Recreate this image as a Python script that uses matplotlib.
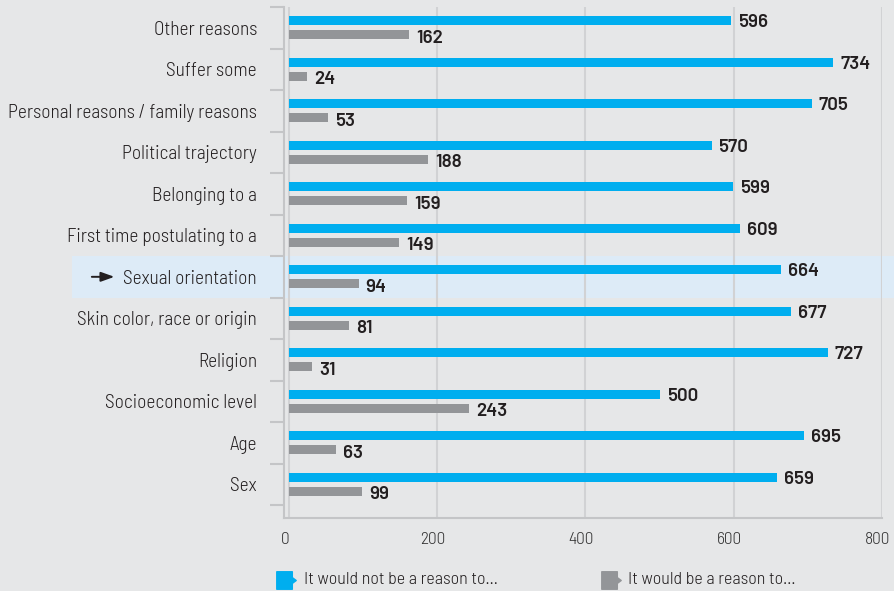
import matplotlib
matplotlib.use('Agg')
from matplotlib import pyplot as plt
from matplotlib.path import Path
from matplotlib.patches import Rectangle
from matplotlib.lines import Line2D
from matplotlib.transforms import blended_transform_factory, ScaledTranslation
import numpy as np

categories = ['Other reasons', 'Suffer some', 'Personal reasons / family reasons',
              'Political trajectory', 'Belonging to a', 'First time postulating to a',
              'Sexual orientation', 'Skin color, race or origin', 'Religion',
              'Socioeconomic level', 'Age', 'Sex']
not_reason = [596, 734, 705, 570, 599, 609, 664, 677, 727, 500, 695, 659]
is_reason = [162, 24, 53, 188, 159, 149, 94, 81, 31, 243, 63, 99]
xticks = [0, 200, 400, 600, 800]
legend_labels = ['It would not be a reason to...', 'It would be a reason to...']
highlight = 'Sexual orientation'

BG = '#e6e7e8'
BLUE = '#00aeef'
GREY = '#939598'
TEXT = '#231f20'
LINE = '#c4c5c7'
FONT = ['Barlow Semi Condensed', 'DejaVu Sans']
NUMFONT = ['Barlow', 'Barlow Semi Condensed', 'DejaVu Sans']

plt.rcParams['font.family'] = FONT

fig = plt.figure(figsize=(8.94, 5.91), dpi=100, facecolor=BG)
ax = fig.add_axes([284 / 894, 1 - 518 / 591, 598 / 894, 511 / 591])
ax.set_facecolor('none')

y = np.arange(len(categories))
ax.barh(y - 0.17, not_reason, height=0.22, color=BLUE, zorder=2)
ax.barh(y + 0.17, is_reason, height=0.22, color=GREY, zorder=2)

for yi, v in zip(y, not_reason):
    ax.annotate(str(v), (v, yi - 0.17), xytext=(5, -1.5), textcoords='offset points',
                va='center', ha='left', fontsize=13.5, fontweight=600, color=TEXT,
                family=NUMFONT)
for yi, v in zip(y, is_reason):
    ax.annotate(str(v), (v, yi + 0.17), xytext=(5, -2.5), textcoords='offset points',
                va='center', ha='left', fontsize=13.5, fontweight=600, color=TEXT,
                family=NUMFONT)

ax.set_xlim(-6.7, 800)
ax.set_ylim(11.81, -0.5)

# category labels between boundary ticks
ax.set_yticks(y)
ax.set_yticklabels(categories, fontsize=13.9, color=TEXT, fontweight=300)
ax.set_yticks(np.arange(-0.5, len(categories)), minor=True)
ax.tick_params(axis='y', which='major', length=0, pad=19.5)
ax.tick_params(axis='y', which='minor', length=10, color=LINE, width=1.5)

ax.set_xticks(xticks)
ax.tick_params(axis='x', length=0, pad=10, labelsize=12.5, labelcolor='#333333')
for lbl in ax.get_xticklabels():
    lbl.set_fontweight(300)
    lbl.set_transform(lbl.get_transform() + ScaledTranslation(-4 / 100, 0, fig.dpi_scale_trans))

ax.grid(axis='x', color='#d1d2d4', linewidth=1.5, zorder=0.5)
ax.set_axisbelow(True)
for s in ['top', 'right']:
    ax.spines[s].set_visible(False)
for s in ['left', 'bottom']:
    ax.spines[s].set_color(LINE)
    ax.spines[s].set_linewidth(1.5)

# highlighted row
hi = categories.index(highlight)
trans = blended_transform_factory(ax.transAxes, ax.transData)
ax.add_patch(Rectangle((-0.3545, hi - 0.5), 1.4, 1.0, transform=trans,
                       facecolor='#ddebf7', edgecolor='none', clip_on=False, zorder=0))
ax.annotate('', xy=(-0.279, hi), xytext=(-0.326, hi), xycoords=trans, textcoords=trans,
            arrowprops=dict(arrowstyle='-|>,head_length=0.5,head_width=0.18',
                            color=TEXT, lw=1.4, mutation_scale=16))

# legend
marker = Path([(-1, -0.9), (0.6, -0.9), (0.6, -0.3), (1, 0), (0.6, 0.3), (0.6, 0.9), (-1, 0.9), (-1, -0.9)],
              [Path.MOVETO] + [Path.LINETO] * 6 + [Path.CLOSEPOLY])
for xpx, tx, col, lab in [(286, 304, BLUE, legend_labels[0]), (611, 628, GREY, legend_labels[1])]:
    fig.add_artist(Line2D([xpx / 894], [1 - 580 / 591], marker=marker, markersize=14,
                          color=col, linestyle='none', transform=fig.transFigure))
    fig.text(tx / 894, 1 - 580 / 591, lab, fontsize=13, color=TEXT, va='center', fontweight=300)

fig.savefig('out.png', dpi=100, facecolor=BG)
